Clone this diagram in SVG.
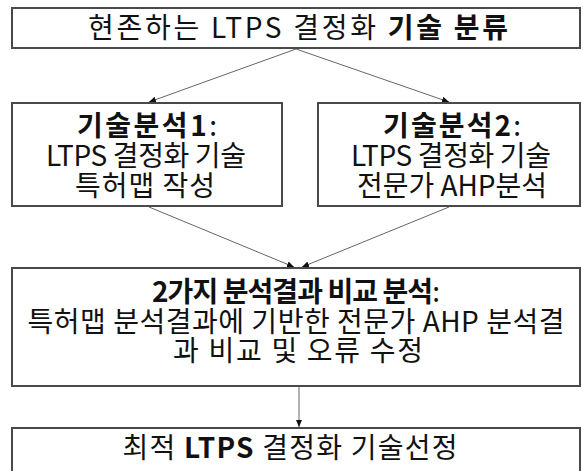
<svg xmlns="http://www.w3.org/2000/svg" width="583" height="471" viewBox="0 0 583 471">
<style>
.box{fill:#fff;stroke:#4a4a4a;stroke-width:2}
text{font-family:"Noto Sans CJK KR","Noto Sans",sans-serif;fill:#111;text-anchor:middle}
.t{font-size:28px}
.b{font-weight:bold}
.c{stroke:#666;stroke-width:1;fill:none;marker-end:url(#ah)}
</style>
<defs>
<marker id="ah" markerWidth="8" markerHeight="8" refX="7" refY="4" orient="auto" markerUnits="userSpaceOnUse">
<path d="M0,1 L7,4 L0,7 Z" fill="#111"/>
</marker>
</defs>
<g id="connectors">
<line class="c" x1="296" y1="49" x2="149" y2="102"/>
<line class="c" x1="296" y1="49" x2="449" y2="102"/>
<line class="c" x1="149" y1="207" x2="294" y2="267"/>
<line class="c" x1="449" y1="207" x2="302" y2="267"/>
<line class="c" x1="299" y1="387" x2="299" y2="427"/>
</g>
<g id="n1">
<rect class="box" x="12" y="8" width="568" height="40"/>
<text class="t" x="298" y="38" textLength="420" lengthAdjust="spacing">현존하는 LTPS 결정화 <tspan class="b">기술 분류</tspan></text>
</g>
<g id="n2">
<rect class="box" x="12" y="103" width="270" height="103"/>
<text class="t" x="147" y="136" textLength="140" lengthAdjust="spacing"><tspan class="b">기술분석1</tspan>:</text>
<text class="t" x="146" y="166" textLength="200" lengthAdjust="spacing">LTPS 결정화 기술</text>
<text class="t" x="145" y="196" textLength="140" lengthAdjust="spacing">특허맵 작성</text>
</g>
<g id="n3">
<rect class="box" x="318" y="103" width="262" height="103"/>
<text class="t" x="452" y="136" textLength="138" lengthAdjust="spacing"><tspan class="b">기술분석2</tspan>:</text>
<text class="t" x="451" y="166" textLength="200" lengthAdjust="spacing">LTPS 결정화 기술</text>
<text class="t" x="452" y="196" textLength="190" lengthAdjust="spacing">전문가 AHP분석</text>
</g>
<g id="n4">
<rect class="box" x="12" y="268" width="568" height="118"/>
<text class="t" x="296" y="302" textLength="288" lengthAdjust="spacing"><tspan class="b">2가지 분석결과 비교 분석</tspan>:</text>
<text class="t" x="296" y="332" textLength="537" lengthAdjust="spacing">특허맵 분석결과에 기반한 전문가 AHP 분석결</text>
<text class="t" x="298" y="361" textLength="250" lengthAdjust="spacing">과 비교 및 오류 수정</text>
</g>
<g id="n5">
<rect class="box" x="12" y="428" width="568" height="50"/>
<text class="t" x="290" y="458" textLength="335" lengthAdjust="spacing">최적 <tspan class="b">LTPS</tspan> 결정화 기술선정</text>
</g>
</svg>
